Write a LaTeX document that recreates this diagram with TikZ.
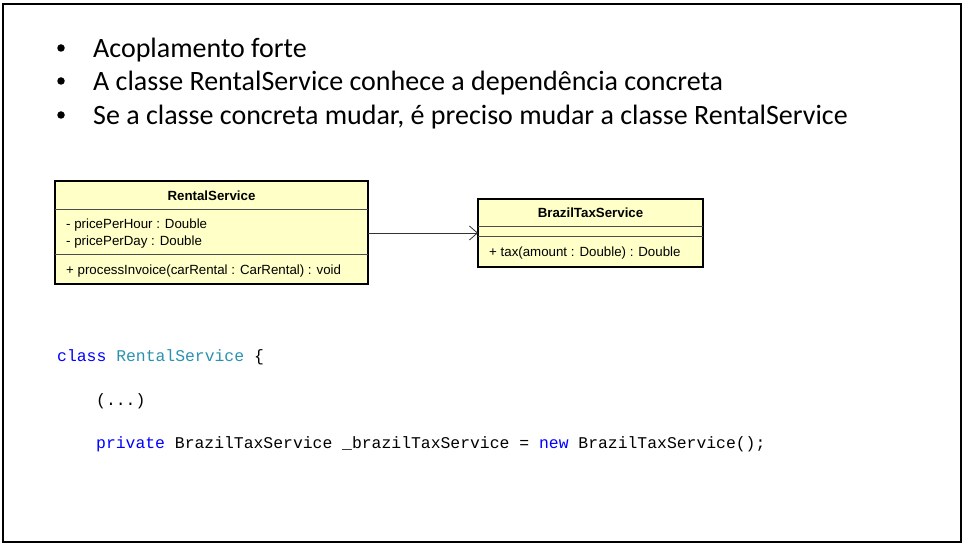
\documentclass[tikz,border=0pt]{standalone}
\usepackage{fontspec}
\setmainfont{Carlito}
\newfontfamily\umlfont{Liberation Sans}
\newfontfamily\codefont{Liberation Mono}
\usetikzlibrary{arrows.meta}
\definecolor{umlfill}{HTML}{FFFFC8}
\definecolor{kw}{HTML}{0000FF}
\definecolor{tyc}{HTML}{2B91AF}
\tikzset{
  bul/.style={anchor=base west, inner sep=0pt, font=\fontsize{28}{32}\selectfont},
  dotmark/.style={circle, fill=black, inner sep=0pt, minimum size=7.5pt},
  umltxt/.style={anchor=base west, inner sep=0pt, font=\umlfont\fontsize{13.3}{15}\selectfont},
  umltitle/.style={anchor=base, inner sep=0pt, font=\umlfont\bfseries\fontsize{13.3}{15}\selectfont},
  codetxt/.style={anchor=base west, inner sep=0pt, font=\codefont\fontsize{16.4}{20}\selectfont},
  umlbox/.style={draw=black, line width=1.6pt, fill=umlfill},
  umlsep/.style={draw=black!70, line width=0.8pt}
}
\begin{document}
\begin{tikzpicture}[x=1pt,y=-1pt]
\useasboundingbox (0,0) rectangle (963,545);
\draw[line width=1.6pt] (3,4) rectangle (961,542);
% bullets
\foreach \yy/\tt [count=\i] in {58/Acoplamento forte, 91/A classe RentalService conhece a dependência concreta, 125/{Se a classe concreta mudar, é preciso mudar a classe RentalService}}{
  \node[dotmark] (bd\i) at (61,\yy-10) {};
  \node[bul] (bt\i) at (93,\yy) {\tt};
}
% RentalService
\path[umlbox] (55,181) rectangle (368,284);
\coordinate (rsE) at (368,233);
\draw[umlsep] (55,209) -- (368,209);
\draw[umlsep] (55,254) -- (368,254);
\node[umltitle] (rst) at (211.5,201) {RentalService};
\node[umltxt] (rsa1) at (66,229) {- pricePerHour : Double};
\node[umltxt] (rsa2) at (66,246) {- pricePerDay : Double};
\node[umltxt] (rsm1) at (66,274) {+ processInvoice(carRental : CarRental) : void};
% BrazilTaxService
\path[umlbox] (478,199) rectangle (703,267);
\coordinate (btW) at (478,233);
\draw[umlsep] (478,226) -- (703,226);
\draw[umlsep] (478,236) -- (703,236);
\node[umltitle] (btt) at (590.5,218) {BrazilTaxService};
\node[umltxt] (btm1) at (489,256) {+ tax(amount : Double) : Double};
% dependency
\draw[black!80, line width=0.8pt, -{Straight Barb[length=8pt,width=14pt]}] (rsE) -- (btW);
% code
\node[codetxt] (c1) at (57,361) {\textcolor{kw}{class} \textcolor{tyc}{RentalService} \{};
\node[codetxt] (c2) at (96,405) {(...)};
\node[codetxt] (c3) at (96,448) {\textcolor{kw}{private} BrazilTaxService \_brazilTaxService = \textcolor{kw}{new} BrazilTaxService();};
\end{tikzpicture}
\end{document}
